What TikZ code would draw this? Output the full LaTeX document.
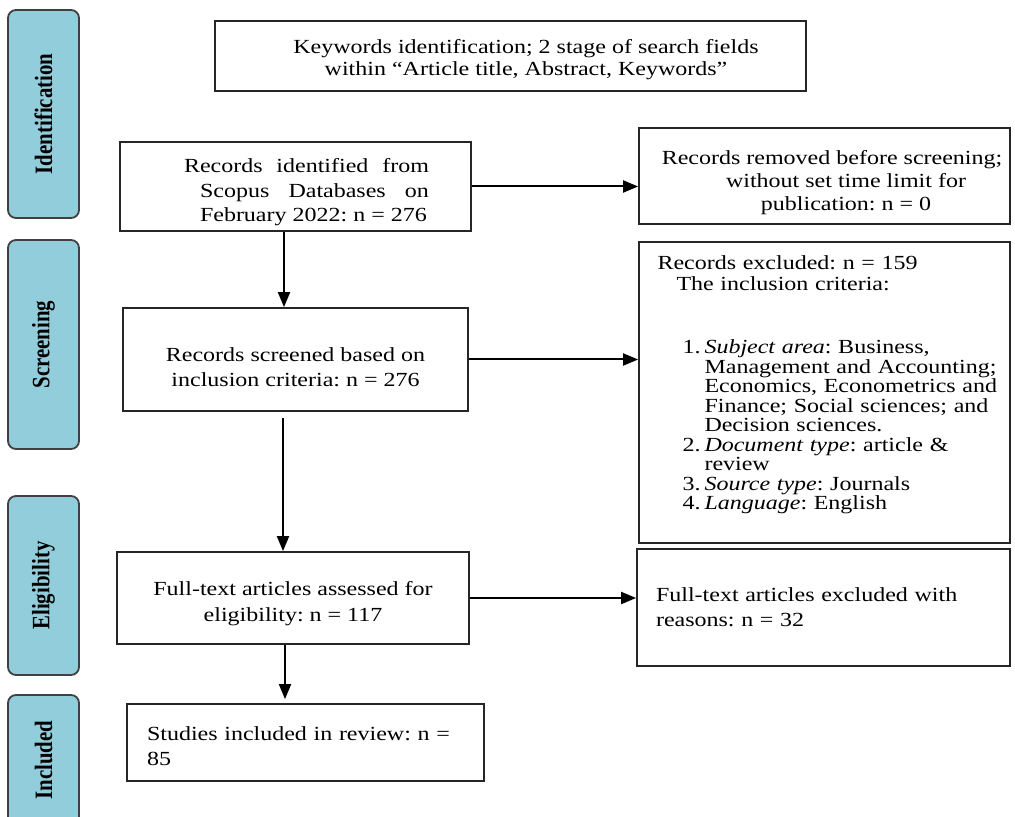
\documentclass[tikz,border=0pt]{standalone}
\usepackage{fontspec}
\setmainfont{Liberation Serif}[FakeStretch=1.2]
\newfontfamily\bandfont{Liberation Serif}[FakeStretch=0.833]
\usetikzlibrary{arrows.meta}
\definecolor{stageblue}{RGB}{146,205,220}
\AtBeginDocument{\frenchspacing}
% indents of the criteria list
\newcommand{\critnum}[1]{\hspace*{21pt}\makebox[11pt][l]{#1}}
\newcommand{\critpad}{\hspace*{32pt}}

\begin{document}
\begin{tikzpicture}[x=0.5pt,y=-0.5pt,
    >={Triangle[length=7.5pt,width=6pt]},
    stage/.style={draw=black!75,fill=stageblue,line width=0.9pt,
      rounded corners=4pt,rotate=90,minimum height=35.5pt,inner sep=0pt,
      font=\bandfont\bfseries\fontsize{12.5}{14}\selectfont},
    box/.style={draw=black!85,line width=0.9pt,inner sep=0pt,
      font=\fontsize{10}{12}\selectfont},
    arr/.style={->,line width=1pt}]
  \useasboundingbox (0,0) rectangle (1015,817);
  \clip (0,0) rectangle (1015,817);
  % stages
  \node[stage,minimum width=104pt] (ident) at (43.5,114) {Identification};
  \node[stage,minimum width=104.5pt] (screen) at (43.5,344.5) {Screening};
  \node[stage,minimum width=89.5pt] (elig) at (43.5,585.5) {Eligibility};
  \node[stage,minimum width=65pt] (incl) at (43.5,760) {Included};
  % boxes
  \node[box,minimum width=295.5pt,minimum height=35pt,align=center,
    font=\fontsize{10}{11}\selectfont] (kw) at (510.5,56)
    {\rule{0pt}{11pt}\hspace*{15.5pt}Keywords identification; 2 stage of search fields\\
     \hspace*{15.5pt}within “Article title, Abstract, Keywords”};
  \node[box,minimum width=175.5pt,minimum height=44.5pt,align=left,
    font=\fontsize{10}{12.25}\selectfont] (idf) at (295.5,186.5)
    {\rule{0pt}{13pt}\hspace*{11pt}\makebox[122.5pt][s]{Records identified from}\\
     \hspace*{19pt}\makebox[114.5pt][s]{Scopus Databases on}\\
     \hspace*{19pt}February 2022: n = 276};
  \node[box,minimum width=185.5pt,minimum height=48pt,align=center,
    font=\fontsize{10}{11.5}\selectfont] (rm) at (824.5,176)
    {\rule{0pt}{14pt}\hspace*{7.5pt}Records removed before screening;\\
     \hspace*{21.5pt}without set time limit for\\
     \hspace*{21.5pt}publication: n = 0};
  \node[box,minimum width=172.5pt,minimum height=51.5pt,align=center,
    font=\fontsize{10}{12.5}\selectfont] (scr) at (295.5,359.5)
    {\rule{0pt}{15pt}Records screened based on\\ inclusion criteria: n = 276};
  \node[box,minimum width=185.5pt,minimum height=150.5pt,text width=184pt,
    align=left,font=\fontsize{10}{9.75}\selectfont] (excl) at (824.5,392.5)
    {\hspace*{8.5pt}Records excluded: n = 159\\[0.75pt]
     \hspace*{18pt}The inclusion criteria:\\[22pt]
     \critnum{1.}\textit{Subject area}: Business,\\
     \critpad Management and Accounting;\\
     \critpad Economics, Econometrics and\\
     \critpad Finance; Social sciences; and\\
     \critpad Decision sciences.\\
     \critnum{2.}\textit{Document type}: article \&\\
     \critpad review\\
     \critnum{3.}\textit{Source type}: Journals\\
     \critnum{4.}\textit{Language}: English\rule[-9.7pt]{0pt}{9.7pt}};
  \node[box,minimum width=176pt,minimum height=46pt,align=center,
    font=\fontsize{10}{13}\selectfont] (fte) at (293,598)
    {\rule{0pt}{13pt}Full-text articles assessed for\\ eligibility: n = 117};
  \node[box,minimum width=186.5pt,minimum height=58.5pt,text width=167.5pt,
    align=left,font=\fontsize{10}{12.5}\selectfont] (fx) at (823.5,607.5)
    {Full-text articles excluded with\\ reasons: n = 32};
  \node[box,minimum width=178.5pt,minimum height=38.5pt,text width=158.5pt,
    align=left,font=\fontsize{10}{12.5}\selectfont] (std) at (305.5,742.5)
    {\rule{0pt}{11pt}Studies included in review: n =\\ 85};
  % arrows
  \draw[arr] (idf.east) -- (idf.east -| rm.west);
  \draw[arr] ([xshift=-5.75pt]idf.south) -- ([xshift=-5.75pt]idf.south |- scr.north);
  \draw[arr] (scr.east) -- (scr.east -| excl.west);
  \draw[arr] ([xshift=-6.25pt,yshift=-3pt]scr.south) -- ([xshift=-6.25pt]scr.south |- fte.north);
  \draw[arr] (fte.east) -- (fte.east -| fx.west);
  \draw[arr,shorten >=2pt] ([xshift=-4pt]fte.south) -- ([xshift=-4pt]fte.south |- std.north);
\end{tikzpicture}
\end{document}
